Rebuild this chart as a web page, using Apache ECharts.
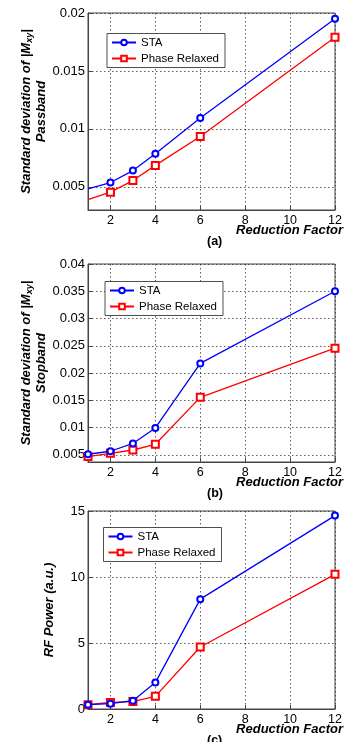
<!DOCTYPE html>
<html><head><meta charset="utf-8">
<script src="https://cdn.jsdelivr.net/npm/echarts@6/dist/echarts.min.js"></script>
<style>html,body{margin:0;padding:0;background:#fff}#c{width:362px;height:742px}</style>
</head><body><div id="c"></div>
<script>
const xValues = [1, 2, 3, 4, 6, 12];
const xTicks = [2, 4, 6, 8, 10, 12];
const staPass = [0.00483, 0.00537, 0.0064, 0.00786, 0.01094, 0.0195];
const prPass = [0.0039, 0.00454, 0.00554, 0.00685, 0.00934, 0.0179];
const staStop = [0.00512, 0.00567, 0.0071, 0.00994, 0.02177, 0.035];
const prStop = [0.0047, 0.0053, 0.0059, 0.00695, 0.01555, 0.02457];
const staPower = [0.33, 0.4, 0.63, 2.0, 8.32, 14.65];
const prPower = [0.33, 0.5, 0.56, 0.96, 4.7, 10.2];
const yTicksPass = [0.005, 0.01, 0.015, 0.02];
const yTicksStop = [0.005, 0.01, 0.015, 0.02, 0.025, 0.03, 0.035, 0.04];
const yTicksPower = [0, 5, 10, 15];
const seriesNames = ['STA', 'Phase Relaxed'];
const panelLabels = ['(a)', '(b)', '(c)'];
const xName = 'Reduction Factor';

const FONT = '"Liberation Sans", Arial, sans-serif';
const chart = echarts.init(document.getElementById('c'));

const grids = [
  {left: 88, top: 13, width: 247, height: 197},
  {left: 88, top: 264, width: 247, height: 198},
  {left: 88, top: 511, width: 247, height: 198}
];
const yRanges = [[0.003, 0.02], [0.0037, 0.04], [0, 15]];
const yTicks = [yTicksPass, yTicksStop, yTicksPower];
const staData = [staPass, staStop, staPower];
const prData = [prPass, prStop, prPower];

const nameRich = {
  a: {fontFamily: FONT, fontSize: 13, fontWeight: 'bold', fontStyle: 'italic', color: '#000', lineHeight: 15},
  s: {fontFamily: FONT, fontSize: 9, fontWeight: 'bold', fontStyle: 'italic', color: '#000', padding: [6, 0, 0, 0], lineHeight: 15}
};
const yNames = [
  '{a|Standard deviation of |}{a|M}{s|xy}{a||}\n{a|Passband}',
  '{a|Standard deviation of |}{a|M}{s|xy}{a||}\n{a|Stopband}',
  '{a|RF Power (a.u.)}'
];
const yGaps = [39, 39, 31];

const AXC = '#444';
const splitLine = {show: true, lineStyle: {color: '#333', type: [1.5, 2.5], width: 0.8}};

const xAxis = grids.map((g, i) => ({
  type: 'value', gridIndex: i, min: 1, max: 12,
  axisLine: {show: true, onZero: false, lineStyle: {color: AXC, width: 1}},
  axisTick: {show: true, inside: true, length: 4, customValues: xTicks, lineStyle: {color: AXC}},
  axisLabel: {customValues: xTicks, color: '#000', fontFamily: FONT, fontSize: 12.5, margin: 4},
  splitLine: splitLine
}));
const yAxis = grids.map((g, i) => ({
  type: 'value', gridIndex: i, min: yRanges[i][0], max: yRanges[i][1],
  axisLine: {show: true, onZero: false, lineStyle: {color: AXC, width: 1}},
  axisTick: {show: true, inside: true, length: 4, customValues: yTicks[i], lineStyle: {color: AXC}},
  axisLabel: {customValues: yTicks[i], color: '#000', fontFamily: FONT, fontSize: 13, margin: 3},
  splitLine: splitLine,
  name: yNames[i], nameLocation: 'middle', nameRotate: 90, nameGap: yGaps[i],
  nameMoveOverlap: false,
  nameTextStyle: {rich: nameRich}
}));

const series = [];
grids.forEach((g, i) => {
  const mk = (arr) => xValues.map((x, k) => {
    const item = {value: [x, arr[k]]};
    if (i === 0 && x === 1) item.symbol = 'none';
    return item;
  });
  series.push({
    name: seriesNames[0], type: 'line', xAxisIndex: i, yAxisIndex: i,
    data: mk(staData[i]), symbol: 'emptyCircle', symbolSize: 6,
    lineStyle: {color: '#0000ff', width: 1.3},
    itemStyle: {color: '#0000ff', borderColor: '#0000ff', borderWidth: 1},
    z: 3
  });
  series.push({
    name: seriesNames[1], type: 'line', xAxisIndex: i, yAxisIndex: i,
    data: mk(prData[i]), symbol: 'emptyRect', symbolSize: 7,
    lineStyle: {color: '#ff0000', width: 1.3},
    itemStyle: {color: '#ff0000', borderColor: '#ff0000', borderWidth: 1},
    z: 2
  });
});

const legendTops = [33.5, 281.5, 527.5];
const legendLefts = [107, 105, 103.5];
const legend = legendTops.map((t, i) => ({
  data: seriesNames, orient: 'vertical', left: legendLefts[i], top: t,
  backgroundColor: '#fff', borderColor: '#222', borderWidth: 0.8,
  padding: [2, 6, 2, 4], itemGap: 2, itemWidth: 24, itemHeight: 7,
  textStyle: {fontFamily: FONT, fontSize: 11.5, color: '#000', lineHeight: 14},
  selectedMode: false
}));

const graphic = [];
grids.forEach((g, i) => {
  graphic.push({
    type: 'text', right: 19, top: g.top + g.height + 13.5,
    style: {text: xName, font: 'italic bold 13px ' + FONT, fill: '#000'}
  });
  graphic.push({
    type: 'text', left: 207, top: g.top + g.height + 25,
    style: {text: panelLabels[i], font: 'bold 12.5px ' + FONT, fill: '#000'}
  });
});

chart.setOption({
  animation: false,
  backgroundColor: '#fff',
  grid: grids.map(g => Object.assign({show: true, borderColor: AXC, borderWidth: 1, backgroundColor: 'transparent'}, g)),
  xAxis, yAxis, series, legend, graphic
});
</script></body></html>
